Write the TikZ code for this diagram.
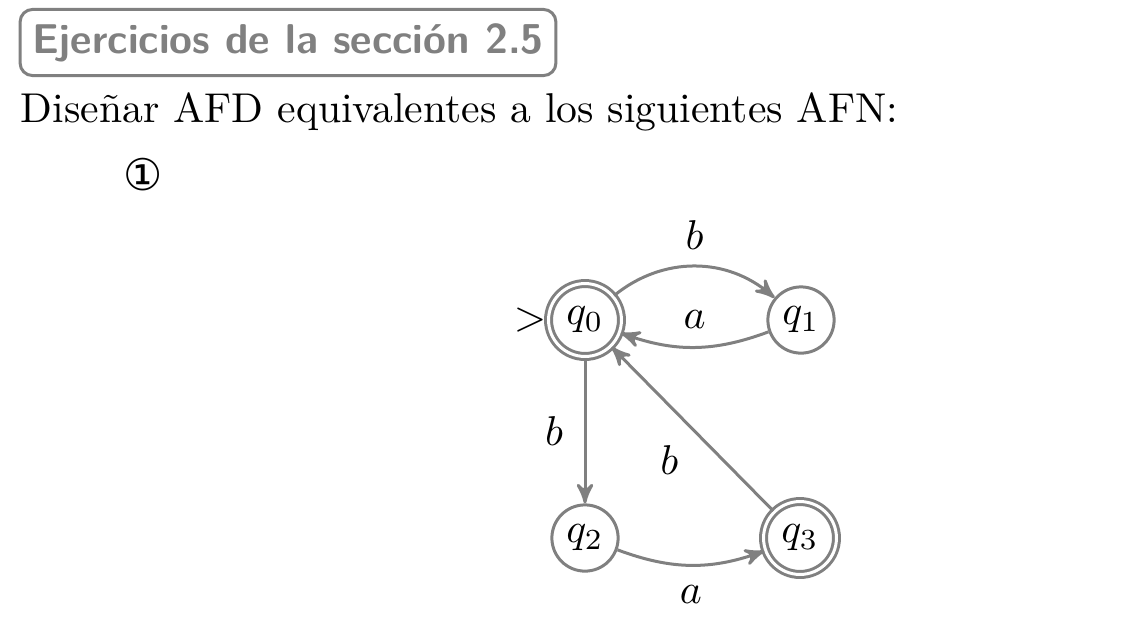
\documentclass[tikz,border=0pt]{standalone}
\usepackage{amsfonts,amssymb,amsmath}
\usepackage{fontspec}
\newfontfamily\simbolos{DejaVu Sans}
\usetikzlibrary{calc,positioning,shapes.geometric,shapes.misc,arrows}

\begin{document}
\begin{tikzpicture}[x=0.24pt, y=-0.24pt,
        estado/.style={circle, draw=gray, line width=0.72pt, minimum size=15.9pt, inner sep=0pt},
        final/.style={estado, double, double distance=0.72pt, minimum size=17.5pt},
        flecha/.style={->, >=stealth', draw=gray, line width=0.72pt}]

        \useasboundingbox (0,0) rectangle (1125,620);

        \node[draw=gray, line width=0.72pt, rounded corners=3pt, inner xsep=2pt, minimum width=128.6pt, minimum height=14.6pt,
              text=gray, font=\sffamily\bfseries] (titulo) at (288,42.5) {Ejercicios de la sección 2.5};
        \node[anchor=base west, inner sep=0pt] (enunciado) at (20,122) {Diseñar AFD equivalentes a los siguientes AFN:};
        \node[font=\simbolos\fontsize{10.5}{12}\selectfont] (num) at (143,175) {①};

        \node[final] (q0) at (585,320) {$q_0$};
        \node[estado] (q1) at (801,320) {$q_1$};
        \node[estado] (q2) at (585,538) {$q_2$};
        \node[final] (q3) at (800,538) {$q_3$};
        \node[anchor=east, inner sep=0pt] (inicio) at (q0.west) {$>$};

        \draw[flecha] (q0) to[bend left=40] node[above=0.3pt] {$b$} (q1);
        \draw[flecha] (q1) to[bend left=20] node[above=0.8pt] {$a$} (q0);
        \draw[flecha] (q0) -- node[left=1.6pt] {$b$} (q2);
        \draw[flecha] (q3) -- node[below left=0pt, xshift=0.3pt, yshift=-0.2pt] {$b$} (q0);
        \draw[flecha] (q2) to[bend right=20] node[below=1.3pt] {$a$} (q3);
    \end{tikzpicture}
\end{document}
